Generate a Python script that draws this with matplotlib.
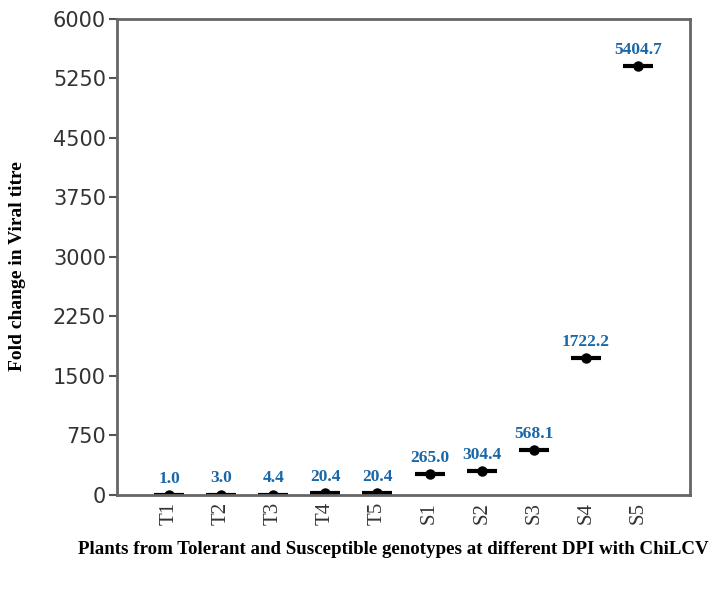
import matplotlib.pyplot as plt
import numpy as np

# dados
categorias = ['T1', 'T2', 'T3', 'T4', 'T5', 'S1', 'S2', 'S3', 'S4', 'S5']
valores = [1.0, 3.0, 4.4, 20.4, 20.4, 265.0, 304.4, 568.1, 1722.2, 5404.7]
rotulos = ['1.0', '3.0', '4.4', '20.4', '20.4', '265.0', '304.4', '568.1', '1722.2', '5404.7']
yticks = [0, 750, 1500, 2250, 3000, 3750, 4500, 5250, 6000]

serif = ['Liberation Serif', 'DejaVu Serif']

fig = plt.figure(figsize=(7.18, 5.9), dpi=100)
ax = fig.add_axes([0.163, 0.161, 0.798, 0.807])

x = np.arange(1, len(categorias) + 1)
# linha horizontal (mediana) e ponto
ax.plot(x, valores, linestyle='none', marker='_', markersize=22, markeredgewidth=3, color='black', zorder=2)
ax.plot(x, valores, linestyle='none', marker='o', markersize=6.5, color='black', zorder=2)

for xi, v, r in zip(x, valores, rotulos):
    ax.annotate(r, (xi, v), xytext=(0, 6), textcoords='offset points', ha='center', va='bottom',
                color='#1a67a8', fontsize=12.5, fontweight='bold', family=serif)

ax.set_xlim(0, 11)
ax.set_ylim(0, 6000)
ax.set_xticks(x)
ax.set_xticklabels(categorias, rotation=90, family=serif, fontsize=15, color='#333333')
ax.set_yticks(yticks)
ax.set_yticklabels([str(t) for t in yticks], fontsize=15, color='#333333')
ax.tick_params(axis='x', length=0, pad=5)
ax.tick_params(axis='y', length=6, width=1.5, color='#555555', direction='out', pad=2)
for s in ax.spines.values():
    s.set_color('#666666')
    s.set_linewidth(2)

fig.text(0.025, 1 - 266 / 590, 'Fold change in Viral titre', rotation=90, ha='center', va='center',
         fontsize=14, fontweight='bold', family=serif)
fig.text(0.548, 0.068, 'Plants from Tolerant and Susceptible genotypes at different DPI with ChiLCV',
         ha='center', va='center', fontsize=13.6, fontweight='bold', family=serif)

plt.savefig('out.png', dpi=100)
